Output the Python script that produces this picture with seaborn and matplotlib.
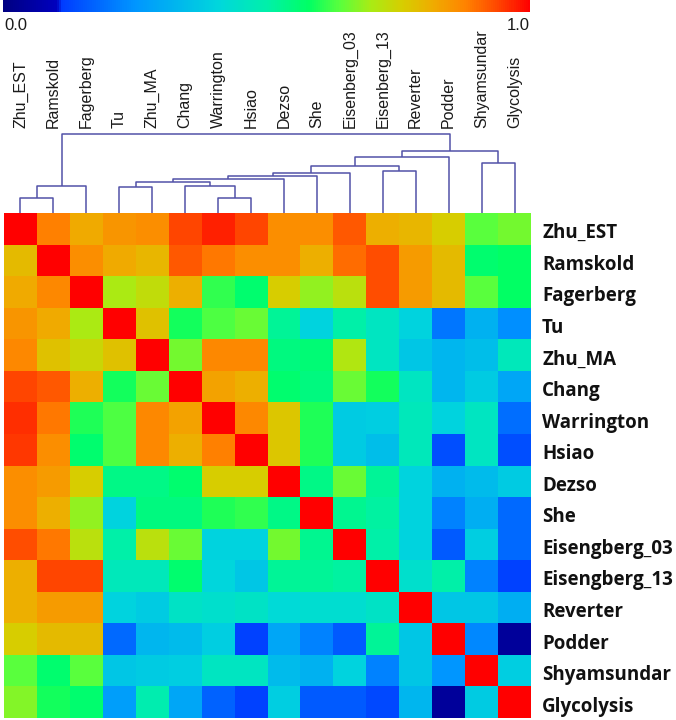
import numpy as np
import pandas as pd
import matplotlib
matplotlib.use("Agg")
import matplotlib.pyplot as plt
import matplotlib.transforms as mtransforms
import seaborn as sns
from matplotlib.colors import LinearSegmentedColormap

# ---------------- data ----------------
col_labels = ["Zhu_EST", "Ramskold", "Fagerberg", "Tu", "Zhu_MA", "Chang", "Warrington",
              "Hsiao", "Dezso", "She", "Eisenberg_03", "Eisenberg_13", "Reverter",
              "Podder", "Shyamsundar", "Glycolysis"]
row_labels = ["Zhu_EST", "Ramskold", "Fagerberg", "Tu", "Zhu_MA", "Chang", "Warrington",
              "Hsiao", "Dezso", "She", "Eisengberg_03", "Eisengberg_13", "Reverter",
              "Podder", "Shyamsundar", "Glycolysis"]

r_zhu_est    = [1.00, 0.88, 0.82, 0.85, 0.86, 0.94, 0.97, 0.94, 0.86, 0.86, 0.92, 0.81, 0.80, 0.76, 0.64, 0.66]
r_ramskold   = [0.79, 1.00, 0.86, 0.82, 0.80, 0.92, 0.89, 0.86, 0.86, 0.81, 0.90, 0.93, 0.84, 0.79, 0.57, 0.58]
r_fagerberg  = [0.82, 0.87, 1.00, 0.70, 0.73, 0.81, 0.61, 0.57, 0.76, 0.68, 0.72, 0.93, 0.84, 0.79, 0.64, 0.58]
r_tu         = [0.85, 0.82, 0.70, 1.00, 0.78, 0.59, 0.63, 0.65, 0.52, 0.40, 0.50, 0.46, 0.40, 0.20, 0.32, 0.24]
r_zhu_ma     = [0.87, 0.78, 0.74, 0.78, 1.00, 0.66, 0.87, 0.87, 0.55, 0.56, 0.71, 0.46, 0.37, 0.33, 0.35, 0.47]
r_chang      = [0.94, 0.92, 0.81, 0.59, 0.65, 1.00, 0.83, 0.81, 0.57, 0.55, 0.65, 0.59, 0.46, 0.33, 0.38, 0.29]
r_warrington = [0.96, 0.89, 0.60, 0.63, 0.87, 0.83, 1.00, 0.87, 0.77, 0.60, 0.38, 0.39, 0.47, 0.40, 0.46, 0.19]
r_hsiao      = [0.95, 0.86, 0.57, 0.63, 0.87, 0.81, 0.88, 1.00, 0.77, 0.60, 0.38, 0.35, 0.47, 0.14, 0.46, 0.14]
r_dezso      = [0.86, 0.84, 0.76, 0.54, 0.54, 0.57, 0.76, 0.76, 1.00, 0.54, 0.65, 0.52, 0.40, 0.32, 0.34, 0.38]
r_she        = [0.86, 0.81, 0.68, 0.40, 0.55, 0.55, 0.60, 0.61, 0.54, 1.00, 0.53, 0.51, 0.40, 0.22, 0.31, 0.18]
r_eis03      = [0.93, 0.89, 0.72, 0.50, 0.72, 0.65, 0.40, 0.40, 0.66, 0.53, 1.00, 0.50, 0.40, 0.16, 0.39, 0.18]
r_eis13      = [0.81, 0.94, 0.94, 0.47, 0.47, 0.57, 0.41, 0.37, 0.52, 0.52, 0.51, 1.00, 0.44, 0.50, 0.22, 0.12]
r_reverter   = [0.81, 0.84, 0.84, 0.40, 0.38, 0.45, 0.44, 0.45, 0.42, 0.43, 0.43, 0.45, 1.00, 0.37, 0.37, 0.31]
r_podder     = [0.76, 0.79, 0.79, 0.18, 0.33, 0.34, 0.39, 0.12, 0.29, 0.22, 0.16, 0.52, 0.37, 1.00, 0.23, 0.04]
r_shyam      = [0.64, 0.57, 0.64, 0.37, 0.38, 0.39, 0.46, 0.46, 0.34, 0.32, 0.40, 0.22, 0.37, 0.25, 1.00, 0.39]
r_glycolysis = [0.67, 0.59, 0.57, 0.27, 0.49, 0.29, 0.17, 0.12, 0.39, 0.16, 0.16, 0.13, 0.33, 0.04, 0.38, 1.00]

matrix_rows = [r_zhu_est, r_ramskold, r_fagerberg, r_tu, r_zhu_ma, r_chang, r_warrington,
               r_hsiao, r_dezso, r_she, r_eis03, r_eis13, r_reverter, r_podder, r_shyam,
               r_glycolysis]

# dendrogram merges (scipy-style ids: leaves 0..15, new clusters 16..)
merge_left   = [0, 16, 3, 6, 5, 18, 21, 22, 23, 11, 24, 26, 14, 27, 17]
merge_right  = [1, 2, 4, 7, 19, 20, 8, 9, 10, 12, 25, 13, 15, 28, 29]
merge_height = [15, 27, 26, 15, 27, 31, 34, 37, 40, 42, 47, 56, 50, 62, 79]

cb_labels = ["0.0", "1.0"]

# ---------------- colormap ----------------
cmap = LinearSegmentedColormap.from_list("jetlike", [
    (0.00, (0/255, 0/255, 130/255)),
    (0.10, (0/255, 0/255, 190/255)),
    (0.11, (0/255, 60/255, 255/255)),
    (0.25, (0/255, 150/255, 255/255)),
    (0.41, (0/255, 215/255, 220/255)),
    (0.50, (0/255, 240/255, 170/255)),
    (0.58, (0/255, 255/255, 100/255)),
    (0.64, (90/255, 255/255, 60/255)),
    (0.70, (170/255, 235/255, 20/255)),
    (0.76, (215/255, 205/255, 0/255)),
    (0.82, (240/255, 170/255, 0/255)),
    (0.88, (255/255, 130/255, 0/255)),
    (0.94, (255/255, 70/255, 0/255)),
    (1.00, (255/255, 0/255, 0/255)),
])

# ---------------- figure ----------------
W, H = 676, 720
fig = plt.figure(figsize=(W / 100, H / 100), dpi=100)

def px_axes(x0, y0, x1, y1):
    return fig.add_axes([x0 / W, 1 - y1 / H, (x1 - x0) / W, (y1 - y0) / H])

hm_x0, hm_x1 = 4, 531
hm_y0, hm_y1 = 213, 718

ax_hm = px_axes(hm_x0, hm_y0, hm_x1, hm_y1)
df = pd.DataFrame(matrix_rows, index=row_labels, columns=col_labels)
sns.heatmap(df, ax=ax_hm, cmap=cmap, vmin=0, vmax=1, cbar=False,
            xticklabels=False, yticklabels=True)
ax_hm.yaxis.tick_right()
ax_hm.tick_params(axis="y", length=0, pad=8)
shift = mtransforms.ScaledTranslation(0, -0.045, fig.dpi_scale_trans)
for t in ax_hm.get_yticklabels():
    t.set_rotation(0)
    t.set_ha("left")
    t.set_va("center")
    t.set_fontfamily(["Open Sans", "DejaVu Sans"])
    t.set_fontweight("bold")
    t.set_fontsize(13.5)
    t.set_color("#111111")
    t.set_transform(t.get_transform() + shift)
ax_hm.set_xlabel("")
ax_hm.set_ylabel("")

# ---------------- dendrogram ----------------
ax_d = px_axes(hm_x0, 134, hm_x1, hm_y0)
n = len(col_labels)
xpos = {i: i + 0.5 for i in range(n)}
hpos = {i: 0.0 for i in range(n)}
dcol = (0.32, 0.32, 0.66)
for k, (a, b, h) in enumerate(zip(merge_left, merge_right, merge_height)):
    xa, xb = xpos[a], xpos[b]
    ax_d.plot([xa, xa, xb, xb], [hpos[a], h, h, hpos[b]], color=dcol, lw=1.1,
              clip_on=False, solid_capstyle="butt")
    xpos[n + k] = (xa + xb) / 2
    hpos[n + k] = h
ax_d.set_xlim(0, n)
ax_d.set_ylim(0, max(merge_height))
ax_d.axis("off")

# column labels above the dendrogram
trans = mtransforms.blended_transform_factory(ax_d.transData, ax_d.transAxes)
for i, lab in enumerate(col_labels):
    ax_d.text(i + 0.5, 1.0 + 6 / 79, lab, transform=trans, rotation=90,
              ha="center", va="bottom", fontsize=11.5,
              family=["Liberation Sans", "DejaVu Sans"], color="#1a1a1a")

# ---------------- colorbar ----------------
ax_cb = px_axes(3, 0, 530, 12)
cb = fig.colorbar(ax_hm.collections[0], cax=ax_cb, orientation="horizontal")
cb.set_ticks([])
cb.outline.set_visible(False)
fig.text(4 / W, 1 - 25 / H, cb_labels[0], ha="left", va="center", fontsize=12,
         family=["Liberation Sans", "DejaVu Sans"], color="#1a1a1a")
fig.text(530 / W, 1 - 25 / H, cb_labels[1], ha="right", va="center", fontsize=12,
         family=["Liberation Sans", "DejaVu Sans"], color="#1a1a1a")

fig.savefig("out.png", dpi=100)
